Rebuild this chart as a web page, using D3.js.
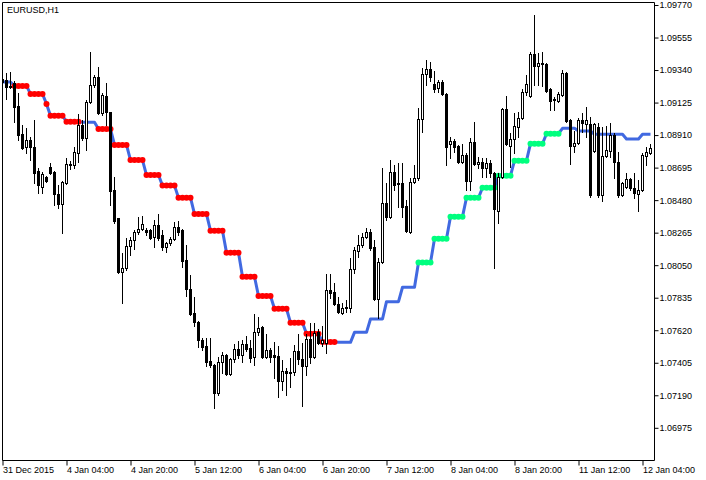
<!DOCTYPE html>
<html><head><meta charset="utf-8">
<script src="https://cdn.jsdelivr.net/npm/d3@7/dist/d3.min.js"></script>
<style>html,body{margin:0;padding:0;background:#fff;} svg{display:block;}</style>
</head><body>
<svg id="chart" width="706" height="480"></svg>
<script>
const symbolTitle = "EURUSD,H1";
const tickBars = [0,16,32,48,64,80,96,112,128,144,160];
const tickLabels = ["31 Dec 2015","4 Jan 04:00","4 Jan 20:00","5 Jan 12:00","6 Jan 04:00","6 Jan 20:00","7 Jan 12:00","8 Jan 04:00","8 Jan 20:00","11 Jan 12:00","12 Jan 04:00"];
const priceTicks = [1.09770,1.09555,1.09340,1.09125,1.08910,1.08695,1.08480,1.08265,1.08050,1.07835,1.07620,1.07405,1.07190,1.06975];

const open = [1.09281,1.09274,1.09235,1.09254,1.09102,1.08917,1.08831,1.08878,1.08831,1.08673,1.08567,1.08633,1.08699,1.08666,1.08521,1.08455,1.08593,1.08719,1.08712,1.08792,
1.08977,1.08891,1.09129,1.09241,1.09294,1.09056,1.09168,1.09063,1.08547,1.08362,1.08005,1.08032,1.08177,1.08217,1.08269,1.08289,1.08283,1.08283,1.08236,1.08316,
1.08250,1.08170,1.08197,1.08223,1.08303,1.08283,1.08084,1.07893,1.07734,1.07675,1.07556,1.07516,1.07417,1.07390,1.07205,1.07410,1.07456,1.07331,1.07430,1.07496,
1.07456,1.07529,1.07503,1.07443,1.07608,1.07642,1.07443,1.07489,1.07456,1.07450,1.07285,1.07351,1.07344,1.07344,1.07483,1.07430,1.07384,1.07562,1.07443,1.07608,
1.07536,1.07536,1.07886,1.07873,1.07794,1.07734,1.07767,1.07767,1.08025,1.08144,1.08184,1.08236,1.08269,1.08170,1.07827,1.08071,1.08461,1.08369,1.08666,1.08587,
1.08593,1.08441,1.08269,1.08600,1.08626,1.09016,1.09314,1.09347,1.09248,1.09221,1.09261,1.09182,1.08851,1.08871,1.08838,1.08732,1.08778,1.08607,1.08864,1.08719,
1.08732,1.08693,1.08726,1.08659,1.08408,1.08633,1.09083,1.08838,1.08884,1.08964,1.09023,1.09195,1.09168,1.09446,1.09367,1.09387,1.09380,1.09215,1.09149,1.09135,
1.09175,1.09320,1.09010,1.08838,1.08858,1.09010,1.08983,1.08983,1.08805,1.08964,1.08514,1.08772,1.08805,1.08911,1.08732,1.08514,1.08567,1.08620,1.08560,1.08521,
1.08547,1.08772,1.08792];
const high = [1.09340,1.09320,1.09327,1.09268,1.09188,1.08977,1.08957,1.08897,1.09010,1.08693,1.08666,1.08640,1.08726,1.08673,1.08580,1.08607,1.08759,1.08739,1.08831,1.09049,
1.09010,1.09142,1.09459,1.09307,1.09360,1.09188,1.09254,1.09063,1.08633,1.08362,1.08131,1.08230,1.08236,1.08283,1.08369,1.08375,1.08296,1.08289,1.08349,1.08388,
1.08283,1.08203,1.08236,1.08336,1.08342,1.08289,1.08184,1.07985,1.07840,1.07681,1.07569,1.07569,1.07569,1.07397,1.07443,1.07476,1.07463,1.07437,1.07529,1.07549,
1.07556,1.07582,1.07556,1.07727,1.07708,1.07648,1.07595,1.07503,1.07542,1.07516,1.07423,1.07371,1.07437,1.07523,1.07595,1.07536,1.07595,1.07668,1.07668,1.07628,
1.07648,1.07992,1.07992,1.07932,1.07840,1.07800,1.07820,1.08098,1.08170,1.08250,1.08263,1.08296,1.08289,1.08217,1.08098,1.08693,1.08593,1.08745,1.08712,1.08726,
1.08726,1.08481,1.08626,1.08712,1.09089,1.09354,1.09406,1.09393,1.09334,1.09274,1.09274,1.09188,1.08897,1.08884,1.08845,1.08851,1.08792,1.08891,1.08997,1.08765,
1.08759,1.08759,1.08745,1.08666,1.08659,1.09089,1.09168,1.08924,1.09056,1.09063,1.09215,1.09307,1.09459,1.09704,1.09453,1.09459,1.09387,1.09221,1.09162,1.09195,
1.09340,1.09327,1.09016,1.08937,1.09023,1.09056,1.09096,1.09030,1.08990,1.08990,1.08964,1.08970,1.08990,1.08924,1.08798,1.08600,1.08659,1.08626,1.08659,1.08613,
1.08792,1.08831,1.08851];
const low = [1.09162,1.09149,1.09221,1.08997,1.08878,1.08818,1.08792,1.08745,1.08593,1.08527,1.08527,1.08600,1.08653,1.08448,1.08428,1.08263,1.08587,1.08686,1.08693,1.08732,
1.08878,1.08811,1.09122,1.09228,1.09049,1.09043,1.08977,1.08448,1.08329,1.07998,1.07800,1.08018,1.08117,1.08157,1.08256,1.08283,1.08250,1.08223,1.08170,1.08217,
1.08150,1.08137,1.08184,1.08217,1.08250,1.08038,1.07846,1.07721,1.07648,1.07509,1.07489,1.07384,1.07377,1.07106,1.07192,1.07337,1.07324,1.07324,1.07410,1.07437,
1.07410,1.07483,1.07410,1.07390,1.07589,1.07437,1.07437,1.07410,1.07304,1.07179,1.07225,1.07192,1.07245,1.07324,1.07397,1.07119,1.07324,1.07404,1.07437,1.07529,
1.07516,1.07470,1.07833,1.07787,1.07734,1.07727,1.07741,1.07741,1.07998,1.08104,1.08170,1.08230,1.08150,1.07820,1.07701,1.08065,1.08349,1.08362,1.08547,1.08435,
1.08369,1.08269,1.08263,1.08593,1.08613,1.08930,1.09241,1.09268,1.09195,1.09195,1.09175,1.08712,1.08759,1.08798,1.08726,1.08726,1.08547,1.08547,1.08712,1.08693,
1.08633,1.08633,1.08633,1.08032,1.08329,1.08626,1.08845,1.08699,1.08792,1.08897,1.09016,1.09175,1.09162,1.09241,1.09241,1.09235,1.09195,1.09076,1.09076,1.09129,
1.09168,1.08997,1.08719,1.08798,1.08851,1.08930,1.08897,1.08501,1.08798,1.08501,1.08474,1.08765,1.08765,1.08626,1.08501,1.08507,1.08560,1.08547,1.08494,1.08408,
1.08540,1.08712,1.08785];
const close = [1.09261,1.09228,1.09228,1.09096,1.08911,1.08825,1.08878,1.08831,1.08659,1.08580,1.08653,1.08607,1.08659,1.08521,1.08455,1.08600,1.08719,1.08712,1.08798,1.08977,
1.08891,1.09129,1.09241,1.09294,1.09056,1.09175,1.09063,1.08540,1.08342,1.08005,1.08032,1.08177,1.08217,1.08269,1.08289,1.08322,1.08269,1.08230,1.08316,1.08230,
1.08170,1.08197,1.08223,1.08303,1.08269,1.08078,1.07893,1.07727,1.07675,1.07556,1.07509,1.07410,1.07390,1.07205,1.07410,1.07456,1.07331,1.07430,1.07496,1.07456,
1.07529,1.07496,1.07437,1.07608,1.07635,1.07443,1.07489,1.07443,1.07443,1.07285,1.07351,1.07337,1.07337,1.07483,1.07430,1.07384,1.07562,1.07443,1.07602,1.07536,
1.07556,1.07886,1.07866,1.07794,1.07741,1.07767,1.07774,1.08025,1.08150,1.08184,1.08236,1.08269,1.08164,1.07827,1.08071,1.08461,1.08369,1.08666,1.08580,1.08593,
1.08435,1.08276,1.08600,1.08626,1.09016,1.09314,1.09347,1.09294,1.09215,1.09261,1.09182,1.08831,1.08871,1.08831,1.08732,1.08778,1.08607,1.08864,1.08719,1.08732,
1.08693,1.08726,1.08659,1.08422,1.08633,1.09083,1.08851,1.08884,1.08970,1.09023,1.09195,1.09248,1.09446,1.09367,1.09387,1.09380,1.09202,1.09135,1.09142,1.09182,
1.09320,1.09003,1.08838,1.08858,1.09010,1.08990,1.09010,1.08514,1.08983,1.08514,1.08772,1.08811,1.08911,1.08732,1.08514,1.08593,1.08620,1.08560,1.08527,1.08547,
1.08778,1.08798,1.08825];
// step trend line (one value per bar)
const stepLine = [1.09261,1.09261,1.09261,1.09235,1.09235,1.09235,1.09235,1.09182,1.09182,1.09182,1.09182,1.09116,1.09038,1.09038,1.09038,1.09038,1.08999,1.08999,1.08999,1.08999,
1.08995,1.08995,1.08995,1.08995,1.08950,1.08950,1.08950,1.08950,1.08845,1.08845,1.08845,1.08845,1.08745,1.08745,1.08745,1.08745,1.08646,1.08646,1.08646,1.08646,
1.08576,1.08576,1.08576,1.08576,1.08496,1.08496,1.08496,1.08496,1.08388,1.08388,1.08388,1.08388,1.08278,1.08278,1.08278,1.08278,1.08133,1.08133,1.08133,1.08133,
1.07974,1.07974,1.07974,1.07974,1.07846,1.07846,1.07846,1.07846,1.07762,1.07762,1.07762,1.07762,1.07670,1.07670,1.07670,1.07670,1.07597,1.07597,1.07597,1.07597,
1.07542,1.07542,1.07542,1.07542,1.07540,1.07540,1.07540,1.07540,1.07606,1.07606,1.07606,1.07606,1.07694,1.07694,1.07694,1.07694,1.07809,1.07809,1.07809,1.07809,
1.07904,1.07904,1.07904,1.07904,1.08067,1.08067,1.08067,1.08067,1.08225,1.08225,1.08225,1.08225,1.08371,1.08371,1.08371,1.08371,1.08496,1.08496,1.08496,1.08496,
1.08562,1.08562,1.08562,1.08562,1.08642,1.08642,1.08642,1.08642,1.08741,1.08741,1.08741,1.08741,1.08853,1.08853,1.08853,1.08853,1.08919,1.08919,1.08919,1.08919,
1.08955,1.08955,1.08955,1.08955,1.08937,1.08937,1.08937,1.08937,1.08915,1.08915,1.08915,1.08915,1.08915,1.08915,1.08915,1.08915,1.08884,1.08884,1.08884,1.08884,
1.08915,1.08915,1.08915];
// dot signal per bar: 0 none, 1 down (red), 2 up (green)
const dotSignal = [0,0,0,1,1,1,1,1,1,1,1,1,1,1,1,1,1,1,1,1,
0,0,0,0,1,1,1,1,1,1,1,1,1,1,1,1,1,1,1,1,
1,1,1,1,1,1,1,1,1,1,1,1,1,1,1,1,1,1,1,1,
1,1,1,1,1,1,1,1,1,1,1,1,1,1,1,1,1,1,1,1,
1,1,1,1,0,0,0,0,0,0,0,0,0,0,0,0,0,0,0,0,
0,0,0,0,2,2,2,2,2,2,2,2,2,2,2,2,2,2,2,2,
2,2,2,2,2,2,2,2,2,2,2,2,2,2,2,2,2,2,2,2,
0,0,0,0,0,0,0,0,0,0,0,0,0,0,0,0,0,0,0,0,
0,0,0];

const svg = d3.select("#chart");
const FONT = "'Liberation Sans', Arial, sans-serif";
const bars = d3.range(open.length);
const x = d3.scaleLinear().domain([0, 162]).range([2.5, 650.5]);
const y = d3.scaleLinear().domain([1.06975, 1.09770]).range([427.8, 5]);
const py = v => Math.round(y(v));

svg.append("defs").append("clipPath").attr("id","plot")
  .append("rect").attr("x",3).attr("y",3).attr("width",651).attr("height",457);

const plot = svg.append("g").attr("clip-path","url(#plot)");

// step line
plot.append("path")
  .datum(bars)
  .attr("fill","none")
  .attr("stroke","#4169E1")
  .attr("stroke-width",3)
  .attr("stroke-linejoin","round")
  .attr("d", d3.line().x(i => x(i)).y(i => y(stepLine[i])));

// dots
plot.append("g").selectAll("circle")
  .data(bars.filter(i => dotSignal[i] > 0))
  .join("circle")
  .attr("cx", i => x(i))
  .attr("cy", i => y(stepLine[i]))
  .attr("r", 3)
  .attr("fill", i => dotSignal[i] === 1 ? "#FF0000" : "#00FF7F");

// candles
const cg = plot.append("g");
cg.selectAll("line.wick").data(bars).join("line")
  .attr("class","wick")
  .attr("x1", i => x(i)).attr("x2", i => x(i))
  .attr("y1", i => py(high[i])).attr("y2", i => py(low[i]) + 1)
  .attr("stroke","#000").attr("stroke-width",1);

cg.selectAll("rect.body").data(bars).join("rect")
  .attr("class","body")
  .each(function(i){
    const r = d3.select(this);
    const yo = py(open[i]), yc = py(close[i]);
    if (close[i] >= open[i]) {
      r.attr("x", x(i) - 1).attr("width", 2)
       .attr("y", Math.min(yo,yc) + 0.5).attr("height", Math.max(0, Math.abs(yo-yc)))
       .attr("fill","#fff").attr("stroke","#000").attr("stroke-width",1);
    } else {
      r.attr("x", x(i) - 1.5).attr("width", 3)
       .attr("y", yo).attr("height", Math.max(1, yc - yo + 1))
       .attr("fill","#000");
    }
  });

// frame
svg.append("path")
  .attr("d","M2.5,460.5V2.5H654.5V460.5H2.5")
  .attr("fill","none").attr("stroke","#000").attr("stroke-width",1);

// right price axis
const yAxis = svg.append("g").attr("transform","translate(654.5,0)")
  .call(d3.axisRight(y).tickValues(priceTicks).tickSize(4).tickPadding(1).tickFormat(d3.format(".5f")));
yAxis.select(".domain").remove();
yAxis.selectAll("text").attr("font-family",FONT).attr("font-size","9px").attr("fill","#000");
yAxis.selectAll("line").attr("stroke","#000");

// bottom time axis
const xAxis = svg.append("g").attr("transform","translate(0,460.5)")
  .call(d3.axisBottom(x).tickValues(tickBars).tickSize(5).tickPadding(1).tickFormat((d,k) => tickLabels[k]));
xAxis.select(".domain").remove();
xAxis.selectAll("text").attr("font-family",FONT).attr("font-size","9px").attr("fill","#000").attr("text-anchor","start").attr("dx", 0);
xAxis.selectAll("line").attr("stroke","#000");

// title
svg.append("text").attr("x",7).attr("y",13)
  .attr("font-family",FONT).attr("font-size","9px").attr("fill","#000")
  .text(symbolTitle);
</script>
</body></html>
